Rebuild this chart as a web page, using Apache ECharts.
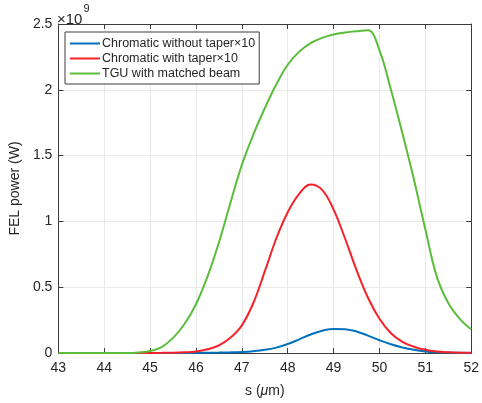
<!DOCTYPE html>
<html>
<head>
<meta charset="utf-8">
<script src="https://cdn.jsdelivr.net/npm/echarts@6/dist/echarts.min.js"></script>
<style>
  html, body { margin: 0; padding: 0; background: #fff; }
  #chart { width: 482px; height: 403px; }
</style>
</head>
<body>
<div id="chart"></div>
<script>
// Position along the bunch, s (µm)
const sPos = [43, 43.25, 43.5, 43.75, 44, 44.25, 44.5, 44.75, 45, 45.25, 45.5, 45.75,
              46, 46.25, 46.5, 46.75, 47, 47.25, 47.5, 47.75, 48, 48.25, 48.5, 48.75,
              49, 49.25, 49.5, 49.75, 50, 50.25, 50.5, 50.75, 51, 51.25, 51.5, 51.75, 52];

// FEL power in units of 1e9 W
const chromaticNoTaper = [0, 0, 0, 0, 0, 0, 0, 0, 0, 0, 0, 0.0005,
                          0.001, 0.002, 0.003, 0.005, 0.008, 0.014, 0.024, 0.041, 0.068, 0.104, 0.141, 0.169,
                          0.183, 0.181, 0.164, 0.132, 0.097, 0.066, 0.042, 0.024, 0.012, 0.006, 0.003, 0.001, 0.0005];

const chromaticTaper = [0, 0, 0, 0, 0, 0, 0, 0, 0.0005, 0.001, 0.002, 0.005,
                        0.011, 0.028, 0.058, 0.115, 0.21, 0.38, 0.62, 0.87, 1.07, 1.21, 1.28, 1.24,
                        1.09, 0.87, 0.63, 0.42, 0.26, 0.15, 0.085, 0.048, 0.024, 0.011, 0.005, 0.002, 0.001];

const tguMatched = [0, 0, 0, 0, 0, 0, 0, 0.004, 0.015, 0.045, 0.115, 0.22,
                    0.37, 0.58, 0.84, 1.14, 1.43, 1.66, 1.86, 2.04, 2.19, 2.29, 2.355, 2.395,
                    2.42, 2.435, 2.445, 2.452, 2.30, 2.00, 1.67, 1.32, 0.94, 0.58, 0.38, 0.26, 0.18];

const seriesNames = ['Chromatic without taper\u00d710', 'Chromatic with taper\u00d710', 'TGU with matched beam'];
const seriesColors = ['#0072bd', '#f5222a', '#5bbd3b'];
const xTicks = { min: 43, max: 52, step: 1 };
const yTicks = { min: 0, max: 2.5, step: 0.5 };

const pairs = arr => sPos.map((s, i) => [s, arr[i]]);
const allData = [chromaticNoTaper, chromaticTaper, tguMatched];

const font = 'Liberation Sans, Arial, Helvetica, sans-serif';
const axisColor = '#3c3c3c';
const gridColor = '#e9e9e9';

const chart = echarts.init(document.getElementById('chart'), null, { renderer: 'canvas' });

const boxAxis = (extra) => Object.assign({
  type: 'value',
  axisLine: { show: true, onZero: false, lineStyle: { color: axisColor, width: 1 } },
  axisTick: { show: true, inside: true, length: 5, lineStyle: { color: axisColor } },
  axisLabel: { show: false },
  splitLine: { show: false }
}, extra);

chart.setOption({
  animation: false,
  backgroundColor: '#ffffff',
  grid: { left: 56, right: 8, top: 24, bottom: 50, containLabel: false },
  xAxis: [
    boxAxis({
      min: xTicks.min, max: xTicks.max, interval: xTicks.step,
      position: 'bottom',
      axisLabel: { show: true, color: '#262626', fontSize: 14, fontFamily: font, margin: 8 },
      splitLine: { show: true, lineStyle: { color: gridColor, width: 1 } },
      name: '{n|s (}{mu|\u03bc}{n|m)}',
      nameLocation: 'middle',
      nameGap: 31,
      nameTextStyle: {
        rich: {
          n: { fontSize: 14, fontFamily: font, color: '#262626' },
          mu: { fontSize: 14, fontFamily: font, fontStyle: 'italic', color: '#262626' }
        }
      }
    }),
    boxAxis({ min: xTicks.min, max: xTicks.max, interval: xTicks.step, position: 'top' })
  ],
  yAxis: [
    boxAxis({
      min: yTicks.min, max: yTicks.max, interval: yTicks.step,
      position: 'left',
      axisLabel: { show: true, color: '#262626', fontSize: 14, fontFamily: font, margin: 6 },
      splitLine: { show: true, lineStyle: { color: gridColor, width: 1 } },
      name: 'FEL power (W)',
      nameLocation: 'middle',
      nameGap: 28,
      nameTextStyle: { fontSize: 14, fontFamily: font, color: '#262626' }
    }),
    boxAxis({ min: yTicks.min, max: yTicks.max, interval: yTicks.step, position: 'right' })
  ],
  legend: {
    left: 65, top: 32,
    orient: 'vertical',
    itemWidth: 30, itemHeight: 2,
    itemGap: 2,
    padding: [5, 4, 4, 5],
    icon: 'rect',
    backgroundColor: '#ffffff',
    borderColor: '#3c3c3c', borderWidth: 1, borderRadius: 0,
    textStyle: { fontSize: 12.5, fontFamily: font, color: '#262626', padding: [0, 0, 0, -3] },
    data: seriesNames
  },
  series: allData.map((arr, i) => ({
    name: seriesNames[i],
    type: 'line',
    data: pairs(arr),
    smooth: 0.4,
    smoothConstraint: false,
    showSymbol: false,
    symbol: 'none',
    clip: true,
    lineStyle: { color: seriesColors[i], width: 2 },
    itemStyle: { color: seriesColors[i] },
    z: 3 + i
  })),
  graphic: [{
    type: 'text',
    left: 57, top: 3,
    style: {
      text: '{t|\u00d710}{s|9}',
      rich: {
        t: { fontSize: 15, fontFamily: font, fill: '#262626', padding: [9, 0, 0, 0] },
        s: { fontSize: 11, fontFamily: font, fill: '#262626', verticalAlign: 'top', padding: [0, 0, 9, 1] }
      }
    }
  }]
});
</script>
</body>
</html>
